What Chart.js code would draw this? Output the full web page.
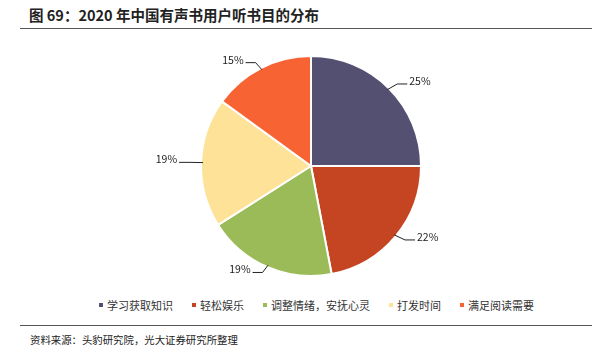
<!DOCTYPE html>
<html>
<head>
<meta charset="utf-8">
<script src="https://cdn.jsdelivr.net/npm/chart.js@4"></script>
<style>
  body { margin: 0; background: #fff; font-family: "Noto Sans CJK SC", "Noto Sans", sans-serif; }
  .page { position: relative; width: 602px; height: 355px; }
  .title { position: absolute; left: 29px; top: 4px; font-size: 14.5px; font-weight: 600; color: #222; line-height: 22px; }
  .rule { position: absolute; left: 20px; width: 572px; height: 1px; background: #555; }
  .box { position: absolute; left: 0; top: 40px; width: 602px; height: 252px; }
  .legend { position: absolute; left: 99px; top: 297px; display: flex; font-size: 11px; color: #333; line-height: 16px; }
  .legend span { display: flex; align-items: center; margin-right: 19px; }
  .legend i { display: inline-block; width: 4px; height: 4px; margin-right: 4px; }
  .source { position: absolute; left: 30px; top: 332px; font-size: 10.4px; color: #222; line-height: 16px; }
</style>
</head>
<body>
<div class="page">
  <div class="title">图 69：2020 年中国有声书用户听书目的分布</div>
  <div class="rule" style="top:28px"></div>
  <div class="box"><canvas id="pieChart"></canvas></div>
  <div class="legend" id="legend"></div>
  <div class="rule" style="top:325px"></div>
  <div class="source">资料来源：头豹研究院，光大证券研究所整理</div>
</div>
<script>
const categories = ["学习获取知识", "轻松娱乐", "调整情绪，安抚心灵", "打发时间", "满足阅读需要"];
const shares = [25, 22, 19, 19, 15];
const colors = ["#545072", "#C54421", "#9BBB59", "#FEE297", "#F86333"];

// labels outside the pie with a small leader line
const outsideLabels = {
  id: "outsideLabels",
  afterDatasetsDraw(chart) {
    const ctx = chart.ctx;
    const meta = chart.getDatasetMeta(0);
    ctx.save();
    ctx.font = "10.5px 'Noto Sans CJK SC', sans-serif";
    ctx.fillStyle = "#222";
    ctx.strokeStyle = "#222";
    ctx.lineWidth = 1;
    meta.data.forEach((arc, i) => {
      const p = arc.getProps(["x", "y", "startAngle", "endAngle", "outerRadius"], true);
      const mid = (p.startAngle + p.endAngle) / 2;
      const cos = Math.cos(mid), sin = Math.sin(mid);
      const side = cos >= 0 ? 1 : -1;
      const x0 = p.x + cos * (p.outerRadius - 2), y0 = p.y + sin * (p.outerRadius - 2);
      const x1 = p.x + cos * (p.outerRadius + 12), y1 = p.y + sin * (p.outerRadius + 6);
      const x2 = x1 + side * 10;
      ctx.beginPath();
      ctx.moveTo(x0, y0);
      ctx.lineTo(x1, y1);
      ctx.lineTo(x2, y1);
      ctx.stroke();
      ctx.textAlign = side > 0 ? "left" : "right";
      ctx.textBaseline = "middle";
      ctx.fillText(shares[i] + "%", x2 + side * 2, y1 - 3);
    });
    ctx.restore();
  },
};

document.addEventListener("DOMContentLoaded", () => {
  const legend = document.getElementById("legend");
  categories.forEach((name, i) => {
    const item = document.createElement("span");
    item.innerHTML = `<i style="background:${colors[i]}"></i>${name}`;
    legend.appendChild(item);
  });

  new Chart(document.getElementById("pieChart"), {
    type: "pie",
    data: {
      labels: categories,
      datasets: [
        {
          data: shares,
          backgroundColor: colors,
          borderColor: "#fff",
          borderWidth: 2,
        },
      ],
    },
    options: {
      responsive: true,
      maintainAspectRatio: false,
      animation: false,
      radius: 110,
      layout: { padding: { left: 20 } },
      plugins: {
        tooltip: { enabled: false },
        legend: { display: false },
      },
    },
    plugins: [outsideLabels],
  });
});
</script>
</body>
</html>
